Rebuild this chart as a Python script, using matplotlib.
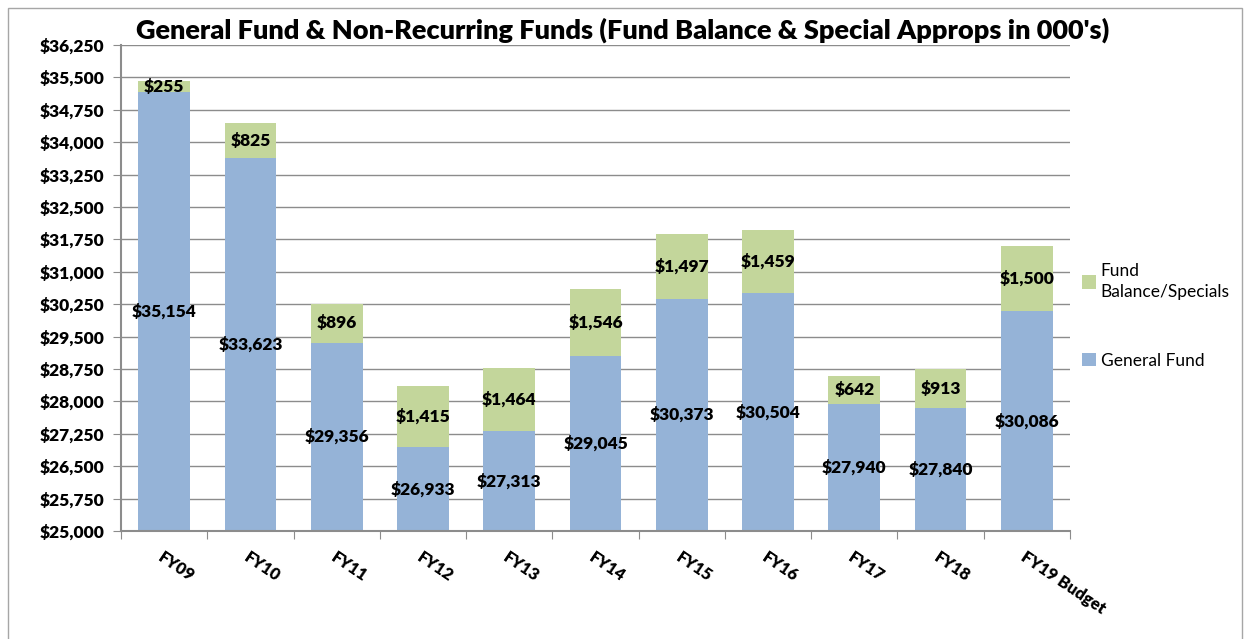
import matplotlib.pyplot as plt
import matplotlib.patches as mpatches
import numpy as np

years = ['FY09', 'FY10', 'FY11', 'FY12', 'FY13', 'FY14', 'FY15', 'FY16', 'FY17', 'FY18', 'FY19 Budget']
general_fund = [35154, 33623, 29356, 26933, 27313, 29045, 30373, 30504, 27940, 27840, 30086]
specials = [255, 825, 896, 1415, 1464, 1546, 1497, 1459, 642, 913, 1500]

Y_MIN = 25000
Y_MAX = 36250
Y_STEP = 750

BLUE = '#95B3D7'
GREEN = '#C3D69B'
GRID = '#8C8C8C'
BOLD = 'heavy'

plt.rcParams['font.family'] = ['Lato', 'DejaVu Sans']

fig = plt.figure(figsize=(12.5, 6.39), dpi=100)
ax = fig.add_axes([121 / 1250, 1 - 531 / 639, (1070 - 121) / 1250, (531 - 45) / 639])

x = np.arange(len(years))
width = 0.6
gf = np.array(general_fund)
sp = np.array(specials)

ax.bar(x, gf - Y_MIN, bottom=Y_MIN, width=width, color=BLUE, label='General Fund', zorder=2)
ax.bar(x, sp, bottom=gf, width=width, color=GREEN, label='Fund\nBalance/Specials', zorder=2)

for i in range(len(years)):
    ax.text(x[i], (Y_MIN + gf[i]) / 2, '${:,}'.format(gf[i]), ha='center', va='center',
            fontsize=12.5, fontweight=BOLD, zorder=3)
    ax.text(x[i], gf[i] + sp[i] / 2, '${:,}'.format(sp[i]), ha='center', va='center',
            fontsize=12.5, fontweight=BOLD, zorder=3)

ax.set_xlim(-0.5, len(years) - 0.5)
ax.set_ylim(Y_MIN, Y_MAX)
ax.set_yticks(np.arange(Y_MIN, Y_MAX + 1, Y_STEP))
ax.set_yticklabels(['${:,}'.format(int(v)) for v in np.arange(Y_MIN, Y_MAX + 1, Y_STEP)],
                   fontsize=12.5, fontweight=BOLD)
ax.grid(axis='y', color=GRID, linewidth=1, zorder=0)

# category ticks sit between bars, labels at bar centres
ax.set_xticks(np.arange(-0.5, len(years)), minor=False)
ax.set_xticklabels([])
ax.set_xticks(x, minor=True)
ax.set_xticklabels(years, minor=True, rotation=-34, ha='left', va='top',
                   rotation_mode='anchor', fontsize=12, fontweight=BOLD)
ax.tick_params(axis='x', which='minor', length=0, pad=13)
ax.tick_params(axis='x', which='major', length=6, color=GRID)
ax.tick_params(axis='y', length=6, color=GRID, pad=6)

for s in ['top', 'right']:
    ax.spines[s].set_visible(False)
for s in ['left', 'bottom']:
    ax.spines[s].set_color(GRID)
    ax.spines[s].set_linewidth(1.5)

handles, labels = ax.get_legend_handles_labels()
leg = fig.legend(handles[::-1], labels[::-1], loc='upper left',
                 bbox_to_anchor=(1066 / 1250, 1 - 247 / 639),
                 frameon=False, fontsize=12.5, handlelength=0.8, handleheight=0.8,
                 handletextpad=0.3, labelspacing=3.0)
for t in leg.get_texts():
    t.set_linespacing(1.45)

fig.suptitle("General Fund & Non-Recurring Funds (Fund Balance & Special Approps in 000's)",
             x=623 / 1250, y=1 - 30 / 639, va='center', fontsize=19.5, fontweight=BOLD)

fig.patches.append(mpatches.Rectangle((8 / 1250, -0.1), 1234 / 1250, 1.1 - 8 / 639,
                                      transform=fig.transFigure, fill=False,
                                      edgecolor='#A6A6A6', linewidth=1))

fig.savefig('out.png', dpi=100)
